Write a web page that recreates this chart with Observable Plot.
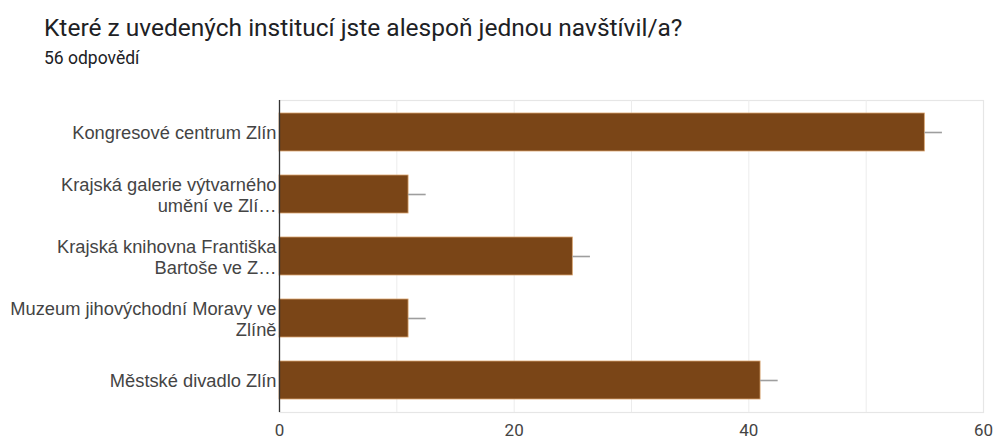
<!DOCTYPE html>
<html>
<head>
<meta charset="utf-8">
<script src="https://cdn.jsdelivr.net/npm/d3@7"></script>
<script src="https://cdn.jsdelivr.net/npm/@observablehq/plot@0.6"></script>
<style>
  html, body { margin: 0; padding: 0; background: #fff; width: 994px; height: 438px; overflow: hidden; }
  #title { position: absolute; left: 44px; top: 13px; font-family: Roboto, sans-serif; font-size: 24.5px; line-height: 30px; color: #202124; white-space: nowrap; }
  #subtitle { position: absolute; left: 44px; top: 47px; font-family: Roboto, sans-serif; font-size: 17.5px; line-height: 22px; color: #202124; white-space: nowrap; }
  #chart { position: absolute; left: 0; top: 75px; }
</style>
</head>
<body>
<div id="title">Které z uvedených institucí jste alespoň jednou navštívil/a?</div>
<div id="subtitle">56 odpovědí</div>
<div id="chart"></div>
<script>
const categories = [
  "Kongresové centrum Zlín",
  "Krajská galerie výtvarného\numění ve Zlí…",
  "Krajská knihovna Františka\nBartoše ve Z…",
  "Muzeum jihovýchodní Moravy ve\nZlíně",
  "Městské divadlo Zlín"
];
const counts = [55, 11, 25, 11, 41];
const errors = [1.5, 1.5, 1.5, 1.5, 1.5];
const xTicks = [0, 20, 40, 60];
const gridTicks = [10, 20, 30, 40, 50];

const data = categories.map((c, i) => ({category: c, value: counts[i], err: errors[i]}));

const chart = Plot.plot({
  width: 994,
  height: 363,
  marginLeft: 279,
  marginRight: 11,
  marginTop: 25,
  marginBottom: 26,
  style: {fontFamily: "'Liberation Sans', Arial, sans-serif", background: "transparent", overflow: "visible"},
  x: {domain: [0, 60], ticks: xTicks, label: null},
  y: {domain: categories, paddingInner: 0.39, paddingOuter: 0.21, label: null},
  marks: [
    Plot.frame({stroke: "#e6e6e6", strokeWidth: 1.2}),
    Plot.ruleX(gridTicks, {stroke: "#ececec", strokeWidth: 1}),
    Plot.barX(data, {x: "value", y: "category", fill: "#7a4517", stroke: "#d9a36e", strokeWidth: 0.8}),
    Plot.ruleY(data, {y: "category", x1: "value", x2: d => d.value + d.err, stroke: "#9e9e9e", strokeWidth: 1.6}),
    Plot.ruleX([0], {stroke: "#333", strokeWidth: 1.3}),
    Plot.axisX({ticks: xTicks, tickSize: 0, tickPadding: 11, fontSize: 17, fill: "#444", fontFamily: "Roboto, sans-serif", label: null}),
    Plot.axisY({tickSize: 0, tickPadding: 3, fontSize: 18.3, fill: "#444", lineHeight: 1.17, label: null, textAnchor: "end"})
  ]
});
document.getElementById("chart").appendChild(chart);
</script>
</body>
</html>
